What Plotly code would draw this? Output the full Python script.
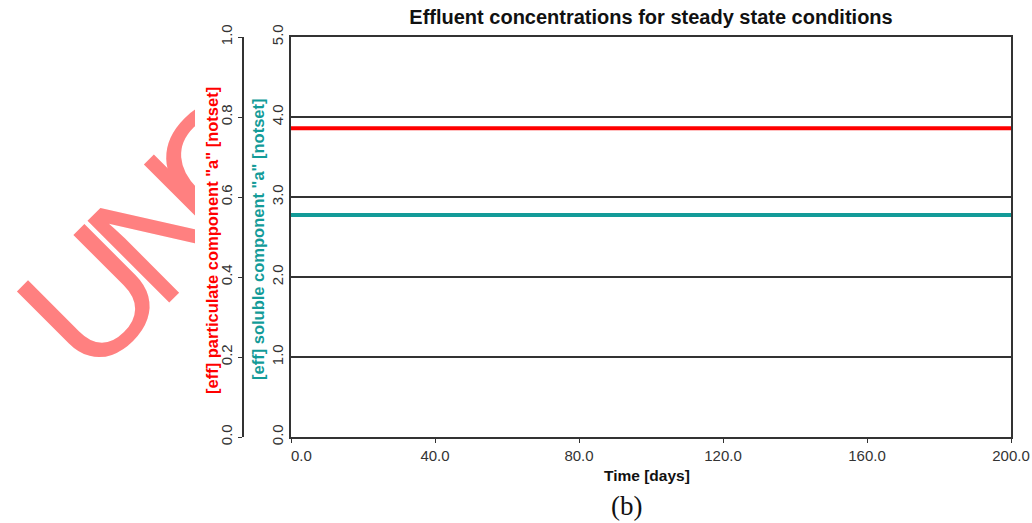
import plotly.graph_objects as go

# ---- data ----
time_days = [0.0, 200.0]
particulate_a = [0.772, 0.772]   # left (outer) axis 0..1
soluble_a = [2.775, 2.775]       # inner axis 0..5

x_ticks = [0, 40, 80, 120, 160, 200]
x_tick_labels = ["0.0", "40.0", "80.0", "120.0", "160.0", "200.0"]
y_ticks_soluble = [0, 1, 2, 3, 4, 5]
y_ticks_particulate = [0.0, 0.2, 0.4, 0.6, 0.8, 1.0]

watermark_letters = ["U", "N", "C"]

W, H = 1032, 523
L_PX, R_PX, T_PX, B_PX = 291, 1011, 37, 437
PH = B_PX - T_PX

def px(xp):
    return xp / W

def py(yp):
    return (B_PX - yp) / PH

RED = "#ff0000"
TEAL = "#139b98"
TICKFONT = dict(family="Liberation Sans, Arial, sans-serif", size=15, color="#333")

# first x label sits right of its tick in the original (padding with nbsp)
x_ticktext = ["\u00a0" * 5 + x_tick_labels[0]] + x_tick_labels[1:]

fig = go.Figure()
fig.add_trace(go.Scatter(x=time_days, y=particulate_a, mode="lines",
                         line=dict(color=RED, width=4), yaxis="y2",
                         showlegend=False, hoverinfo="skip"))
fig.add_trace(go.Scatter(x=time_days, y=soluble_a, mode="lines",
                         line=dict(color=TEAL, width=4), yaxis="y",
                         showlegend=False, hoverinfo="skip"))

fig.update_layout(
    width=W, height=H,
    margin=dict(l=0, r=0, t=T_PX, b=H - B_PX, pad=0, autoexpand=False),
    paper_bgcolor="white", plot_bgcolor="white",
    showlegend=False,
    title=dict(text="<b>Effluent concentrations for steady state conditions</b>",
               x=px((L_PX + R_PX) / 2), xanchor="center", xref="paper",
               y=1 - 17 / H, yanchor="middle", yref="container", automargin=False,
               font=dict(family="Liberation Sans, Arial, sans-serif", size=20, color="#111")),
    xaxis=dict(domain=[px(L_PX), px(R_PX)], range=[0, 200], automargin=False,
               tickvals=x_ticks, ticktext=x_ticktext,
               ticks="outside", ticklen=4, tickcolor="#333",
               showline=True, linecolor="#333", linewidth=1.5, mirror=True,
               showgrid=False, zeroline=False, tickfont=TICKFONT),
    yaxis=dict(range=[0, 5], tickvals=y_ticks_soluble, tickformat=".1f",
               automargin=False,
               tickangle=-90, ticks="", showline=True, linecolor="#333",
               linewidth=1.5, mirror=True, showgrid=True, gridcolor="#333",
               gridwidth=1.5, zeroline=False, tickfont=TICKFONT),
    yaxis2=dict(range=[0, 1], tickvals=y_ticks_particulate, tickformat=".1f",
                automargin=False,
                overlaying="y", anchor="free", position=px(243), side="left",
                tickangle=-90, ticks="outside", ticklen=4, tickcolor="#333",
                showline=True, linecolor="#333", linewidth=1.5,
                showgrid=False, zeroline=False, tickfont=TICKFONT),
)

# watermark letters (partially hidden behind the chart area)
letter_anchors = [(80, 287), (150, 217), (212, 152)]
for letter, (cx, cy) in zip(watermark_letters, letter_anchors):
    fig.add_shape(type="rect", xref="paper", yref="paper",
                  x0=px(cx - 1), x1=px(cx + 1), y0=py(cy + 1), y1=py(cy - 1),
                  line=dict(width=0), fillcolor="rgba(0,0,0,0)", layer="below",
                  label=dict(text=letter, textposition="middle center", textangle=-45,
                             font=dict(family="Liberation Sans Narrow, Arial Narrow, sans-serif",
                                       size=168, color="#ff8080")))
fig.add_shape(type="rect", xref="paper", yref="paper",
              x0=px(195), x1=1.0, y0=-0.3, y1=1.2,
              line=dict(width=0), fillcolor="white", layer="below")

ann_font = dict(family="Liberation Sans, Arial, sans-serif", size=16.5)
fig.add_annotation(text='<b>[eff] particulate component "a" [notset]</b>',
                   xref="paper", yref="paper", x=px(212), y=py(241),
                   xanchor="center", yanchor="middle", textangle=-90,
                   showarrow=False, font=dict(ann_font, color=RED))
fig.add_annotation(text='<b>[eff] soluble component "a" [notset]</b>',
                   xref="paper", yref="paper", x=px(258), y=py(240),
                   xanchor="center", yanchor="middle", textangle=-90,
                   showarrow=False, font=dict(ann_font, color=TEAL))
fig.add_annotation(text="<b>Time [days]</b>", xref="paper", yref="paper",
                   x=px(647), y=py(476), xanchor="center", yanchor="middle",
                   showarrow=False,
                   font=dict(family="Liberation Sans, Arial, sans-serif", size=15.5, color="#111"))
fig.add_annotation(text="(b)", xref="paper", yref="paper",
                   x=px(626), y=py(506), xanchor="center", yanchor="middle",
                   showarrow=False,
                   font=dict(family="Liberation Serif, Times New Roman, serif",
                             size=27, color="#111"))

fig.write_html("out.html")
